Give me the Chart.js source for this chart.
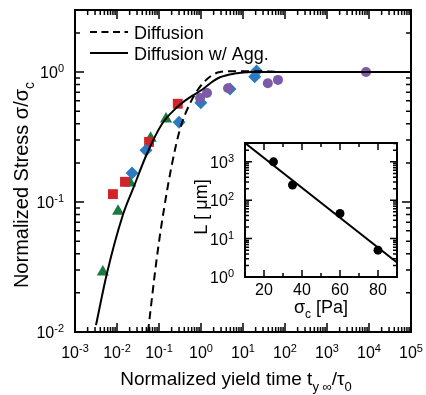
<!DOCTYPE html>
<html>
<head>
<meta charset="utf-8">
<script src="https://cdn.jsdelivr.net/npm/chart.js@4.4.0/dist/chart.umd.min.js"></script>
<style>
  html, body { margin: 0; padding: 0; background: #fff; }
  #wrap { position: relative; width: 426px; height: 395px; }
  #mainBox { position: absolute; left: 0; top: 0; }
  #insetBox { position: absolute; left: 185px; top: 135px; }
</style>
</head>
<body>
<div id="wrap">
  <div id="mainBox"><canvas id="mainChart" width="426" height="395"></canvas></div>
  <div id="insetBox"><canvas id="insetChart" width="220" height="195"></canvas></div>
</div>
<script>
// measured points (normalized yield time, normalized stress)
const greenX = [0.0046, 0.0106, 0.0205, 0.063, 0.147];
const greenY = [0.029, 0.085, 0.14, 0.31, 0.435];
const redX = [0.008, 0.0155, 0.058, 0.28];
const redY = [0.115, 0.143, 0.29, 0.57];
const blueX = [0.0228, 0.049, 0.30, 0.99, 4.9, 19, 21];
const blueY = [0.167, 0.25, 0.41, 0.58, 0.74, 0.92, 1.02];
const purpleX = [0.95, 1.39, 4.4, 39, 68, 8500];
const purpleY = [0.63, 0.69, 0.75, 0.82, 0.87, 1.0];

// model curves
const diffX = [0.0547, 0.0895, 0.132, 0.2, 0.316, 0.55, 1.12, 2.82, 6, 20, 100, 1e5];
const diffY = [0.01, 0.038, 0.089, 0.19, 0.363, 0.575, 0.822, 1.0, 1.015, 1.015, 1.0, 1.0];
const aggX = [0.00316, 0.00575, 0.0138, 0.024, 0.0513, 0.1175, 0.251, 0.417, 1.12, 1.95, 2.82, 6.3, 15.8, 1e5];
const aggY = [0.0113, 0.0282, 0.0794, 0.126, 0.234, 0.398, 0.525, 0.603, 0.741, 0.851, 0.912, 0.973, 1.0, 1.0];

// inset: L vs sigma_c
const sigmaC = [25, 35, 60, 80];
const lengthL = [1000, 250, 45, 5];
const fitX = [10, 90];
const fitY = [3100, 2.4];

// tick labels
const xDecades = [-3, -2, -1, 0, 1, 2, 3, 4, 5];
const yDecades = [-2, -1, 0];
const insetXLabels = [20, 40, 60, 80];
const insetXMinor = [30, 50, 70];
const insetYDecades = [0, 1, 2, 3];

const FONT = '"Liberation Sans", Arial, Helvetica, sans-serif';

function pts(xs, ys) {
  return xs.map((x, i) => ({ x: x, y: ys[i] }));
}

function markers(xs, ys, color, style, radius, order) {
  return {
    data: pts(xs, ys),
    pointStyle: style,
    pointRadius: radius,
    backgroundColor: color,
    borderColor: color,
    pointBorderWidth: 0,
    order: order,
  };
}

function curve(xs, ys, dash, order) {
  return {
    data: pts(xs, ys),
    showLine: true,
    pointRadius: 0,
    borderColor: '#000',
    borderWidth: 2,
    borderDash: dash,
    cubicInterpolationMode: 'monotone',
    fill: false,
    order: order,
  };
}

// parts: [[text, ''|'sub'|'sup'], ...]
function richText(ctx, parts, x, y, size, align) {
  const small = Math.round(size * 0.68);
  let total = 0;
  const widths = parts.map(([t, k]) => {
    ctx.font = (k ? small : size) + 'px ' + FONT;
    const w = ctx.measureText(t).width;
    total += w;
    return w;
  });
  let cx = align === 'right' ? x - total : align === 'left' ? x : x - total / 2;
  ctx.textAlign = 'left';
  ctx.textBaseline = 'alphabetic';
  parts.forEach(([t, k], i) => {
    ctx.font = (k ? small : size) + 'px ' + FONT;
    const dy = k === 'sub' ? size * 0.3 : k === 'sup' ? -size * 0.38 : 0;
    ctx.fillText(t, cx, y + dy);
    cx += widths[i];
  });
}

function power(exp) {
  return [['10', ''], [String(exp), 'sup']];
}

function logTickList(lo, hi) {
  const out = [];
  for (let k = Math.floor(Math.log10(lo)); k <= Math.ceil(Math.log10(hi)); k++) {
    for (let m = 1; m < 10; m++) {
      const v = m * Math.pow(10, k);
      if (v >= lo * 0.9999 && v <= hi * 1.0001) out.push({ v: v, major: m === 1 });
    }
  }
  return out;
}

function drawFrameAndTicks(ctx, area, xs, ys, xTicks, yTicks, majLen, minLen) {
  ctx.save();
  ctx.strokeStyle = '#000';
  ctx.lineWidth = 1.5;
  ctx.beginPath();
  xTicks.forEach(t => {
    const px = xs.getPixelForValue(t.v);
    const len = t.major ? majLen : minLen;
    ctx.moveTo(px, area.bottom); ctx.lineTo(px, area.bottom - len);
    ctx.moveTo(px, area.top); ctx.lineTo(px, area.top + len);
  });
  yTicks.forEach(t => {
    const py = ys.getPixelForValue(t.v);
    const len = t.major ? majLen : minLen;
    ctx.moveTo(area.left, py); ctx.lineTo(area.left + len, py);
    ctx.moveTo(area.right, py); ctx.lineTo(area.right - len, py);
  });
  ctx.stroke();
  ctx.lineWidth = 2;
  ctx.strokeRect(area.left, area.top, area.right - area.left, area.bottom - area.top);
  ctx.restore();
}

const mainDecor = {
  id: 'mainDecor',
  beforeDraw(chart) {
    const ctx = chart.ctx;
    ctx.save();
    ctx.fillStyle = '#fff';
    ctx.fillRect(0, 0, chart.width, chart.height);
    ctx.restore();
  },
  afterDraw(chart) {
    const ctx = chart.ctx;
    const area = chart.chartArea;
    const xs = chart.scales.x;
    const ys = chart.scales.y;
    drawFrameAndTicks(ctx, area, xs, ys, logTickList(xs.min, xs.max), logTickList(ys.min, ys.max), 9, 5);

    ctx.save();
    ctx.fillStyle = '#000';
    xDecades.forEach(e => {
      richText(ctx, power(e), xs.getPixelForValue(Math.pow(10, e)), 358, 16, 'center');
    });
    yDecades.forEach(e => {
      richText(ctx, power(e), 64, ys.getPixelForValue(Math.pow(10, e)) + 6, 16, 'right');
    });

    // axis titles
    richText(ctx, [['Normalized yield time t', ''], ['y \u221e', 'sub'], ['/\u03c4', ''], ['0', 'sub']], 236, 385, 19, 'center');
    ctx.save();
    ctx.translate(21, 185);
    ctx.rotate(-Math.PI / 2);
    richText(ctx, [['Normalized Stress \u03c3/\u03c3', ''], ['c', 'sub']], 0, 7, 20, 'center');
    ctx.restore();

    // legend
    ctx.strokeStyle = '#000';
    ctx.lineWidth = 2;
    ctx.setLineDash([7, 4.5]);
    ctx.beginPath();
    ctx.moveTo(90, 32); ctx.lineTo(128, 32);
    ctx.stroke();
    ctx.setLineDash([]);
    ctx.beginPath();
    ctx.moveTo(90, 53); ctx.lineTo(128, 53);
    ctx.stroke();
    richText(ctx, [['Diffusion', '']], 134, 38.5, 18, 'left');
    richText(ctx, [['Diffusion w/ Agg.', '']], 134, 59.5, 18, 'left');
    ctx.restore();
  },
};

const insetDecor = {
  id: 'insetDecor',
  beforeDatasetsDraw(chart) {
    const ctx = chart.ctx;
    const a = chart.chartArea;
    ctx.save();
    ctx.fillStyle = '#fff';
    ctx.fillRect(a.left, a.top, a.right - a.left, a.bottom - a.top);
    ctx.restore();
  },
  afterDraw(chart) {
    const ctx = chart.ctx;
    const area = chart.chartArea;
    const xs = chart.scales.x;
    const ys = chart.scales.y;
    const xTicks = insetXLabels.map(v => ({ v: v, major: true }))
      .concat(insetXMinor.map(v => ({ v: v, major: false })));
    drawFrameAndTicks(ctx, area, xs, ys, xTicks, logTickList(ys.min, ys.max), 7, 4);

    ctx.save();
    ctx.fillStyle = '#000';
    insetXLabels.forEach(v => {
      richText(ctx, [[String(v), '']], xs.getPixelForValue(v), 160, 16, 'center');
    });
    insetYDecades.forEach(e => {
      richText(ctx, power(e), 49, ys.getPixelForValue(Math.pow(10, e)) + 6, 16, 'right');
    });
    richText(ctx, [['\u03c3', ''], ['c', 'sub'], [' [Pa]', '']], 136, 178, 18, 'center');
    ctx.translate(15, 72);
    ctx.rotate(-Math.PI / 2);
    richText(ctx, [['L [ \u03bcm]', '']], 0, 6.5, 18, 'center');
    ctx.restore();
  },
};

const mainChart = new Chart(document.getElementById('mainChart').getContext('2d'), {
  type: 'scatter',
  data: {
    datasets: [
      curve(aggX, aggY, [], 0),
      curve(diffX, diffY, [8, 5], 0),
      markers(purpleX, purpleY, '#7b5aa6', 'circle', 5, 1),
      markers(blueX, blueY, '#2a7bc1', 'rectRot', 6.5, 2),
      markers(redX, redY, '#d2222a', 'rect', 7, 3),
      markers(greenX, greenY, '#1b7b3f', 'triangle', 7, 4),
    ],
  },
  options: {
    responsive: false,
    animation: false,
    events: [],
    layout: { padding: { left: 0, top: 10, right: 15, bottom: 0 } },
    plugins: { legend: { display: false }, tooltip: { enabled: false } },
    scales: {
      x: {
        type: 'logarithmic', min: 1e-3, max: 1e5,
        ticks: { display: false }, grid: { display: false }, border: { display: false },
        afterFit: s => { s.height = 63; },
      },
      y: {
        type: 'logarithmic', min: 0.01, max: 3,
        ticks: { display: false }, grid: { display: false }, border: { display: false },
        afterFit: s => { s.width = 75; },
      },
    },
  },
  plugins: [mainDecor],
});

const insetChart = new Chart(document.getElementById('insetChart').getContext('2d'), {
  type: 'scatter',
  data: {
    datasets: [
      curve(fitX, fitY, [], 1),
      markers(sigmaC, lengthL, '#000', 'circle', 4.5, 0),
    ],
  },
  options: {
    responsive: false,
    animation: false,
    events: [],
    layout: { padding: { left: 0, top: 8, right: 8, bottom: 0 } },
    plugins: { legend: { display: false }, tooltip: { enabled: false } },
    scales: {
      x: {
        type: 'linear', min: 10, max: 90,
        ticks: { display: false }, grid: { display: false }, border: { display: false },
        afterFit: s => { s.height = 53; },
      },
      y: {
        type: 'logarithmic', min: 1, max: 3100,
        ticks: { display: false }, grid: { display: false }, border: { display: false },
        afterFit: s => { s.width = 60; },
      },
    },
  },
  plugins: [insetDecor],
});
</script>
</body>
</html>
